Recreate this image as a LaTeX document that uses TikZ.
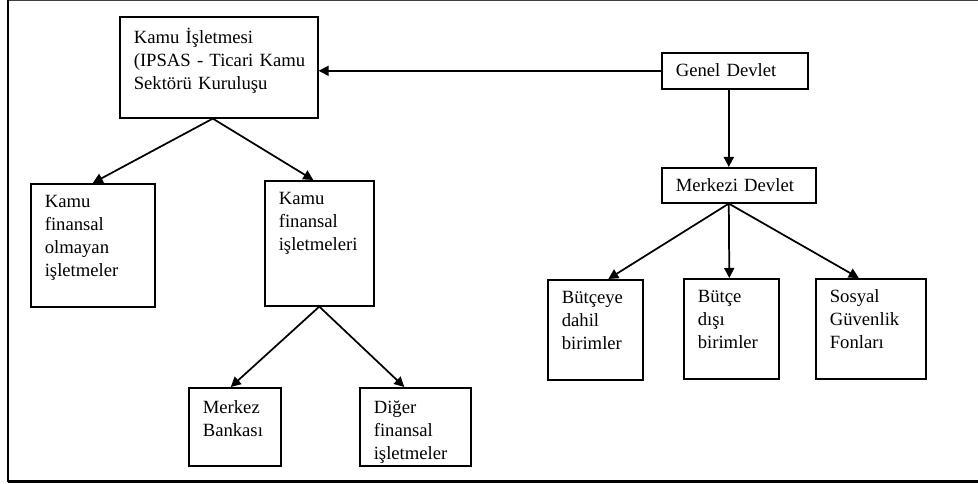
\documentclass[tikz,border=0pt]{standalone}
\usepackage{fontspec}
\setmainfont{Liberation Serif}
\usetikzlibrary{arrows.meta}
\hyphenpenalty=10000

\tikzset{
  kutu/.style={draw, line width=1.2pt, anchor=north west, align=left, inner xsep=10.5pt, inner ysep=0pt, text height=18pt, font=\fontsize{14}{17.25}\selectfont},
  ok/.style={-{Triangle[length=7.5pt,width=7.5pt]}, line width=1.3pt}
}

\begin{document}
\begin{tikzpicture}[x=0.75pt,y=-0.75pt]
\useasboundingbox (0,0) rectangle (978,484);
% cerceve
\draw[line width=1pt, black!75] (8,0.6) -- (978,0.6);
\draw[line width=1.3pt] (8,0) -- (8,481.5);
\draw[line width=2pt] (7.5,481.5) -- (978,481.5);
% kutular
\node[kutu, text width=127.5pt, text height=20.25pt, text depth=55.5pt] (ki) at (119,16) {Kamu İşletmesi\\\mbox{(IPSAS - Ticari Kamu}\\Sektörü Kuruluşu};
\node[kutu, text width=72pt, text depth=74.25pt] (kfo) at (30,183) {Kamu\\finansal\\olmayan\\işletmeler};
\node[kutu, text width=60.75pt, text depth=75.75pt] (kfi) at (264,180) {Kamu\\finansal\\işletmeleri};
\node[kutu, text width=48pt, text height=19pt, text depth=39.5pt] (mb) at (188,387) {Merkez\\Bankası};
\node[kutu, text width=62.25pt, text height=19pt, text depth=39.5pt] (dfi) at (359,387) {Diğer\\finansal\\işletmeler};
\node[kutu, text width=88.5pt, text depth=9pt] (gd) at (661,52) {Genel Devlet};
\node[kutu, text width=94.5pt, text depth=8.25pt] (md) at (661,167) {Merkezi Devlet};
\node[kutu, text width=50.25pt, text depth=57pt] (bd) at (547,279) {Bütçeye\\dahil\\birimler};
\node[kutu, text width=50.25pt, text depth=57pt] (bdi) at (683,278) {Bütçe\\dışı\\birimler};
\node[kutu, text width=61.5pt, text depth=57pt] (sgf) at (815,278) {Sosyal\\Güvenlik\\Fonları};
% oklar
\draw[ok] (gd.west) -- (gd.west -| ki.east);
\draw[ok] ([xshift=-4.5pt]gd.south) -- ([xshift=-4.5pt]gd.south |- md.north);
\draw[ok] ([xshift=-4.5pt]ki.south) -- (kfo.north);
\draw[ok] ([xshift=-4.5pt]ki.south) -- ([xshift=-4.5pt]kfi.north);
\draw[ok] (kfi.south) -- ([xshift=-3pt]mb.north);
\draw[ok] (kfi.south) -- ([xshift=-8.25pt]dfi.north);
\draw[ok] ([xshift=-7.5pt]md.south) -- ([xshift=9.75pt]bd.north);
\draw[ok] ([xshift=-7.5pt]md.south) -- ([xshift=-1.5pt]bdi.north);
\draw[ok] ([xshift=-7.5pt]md.south) -- ([xshift=-9pt]sgf.north);
\end{tikzpicture}
\end{document}
